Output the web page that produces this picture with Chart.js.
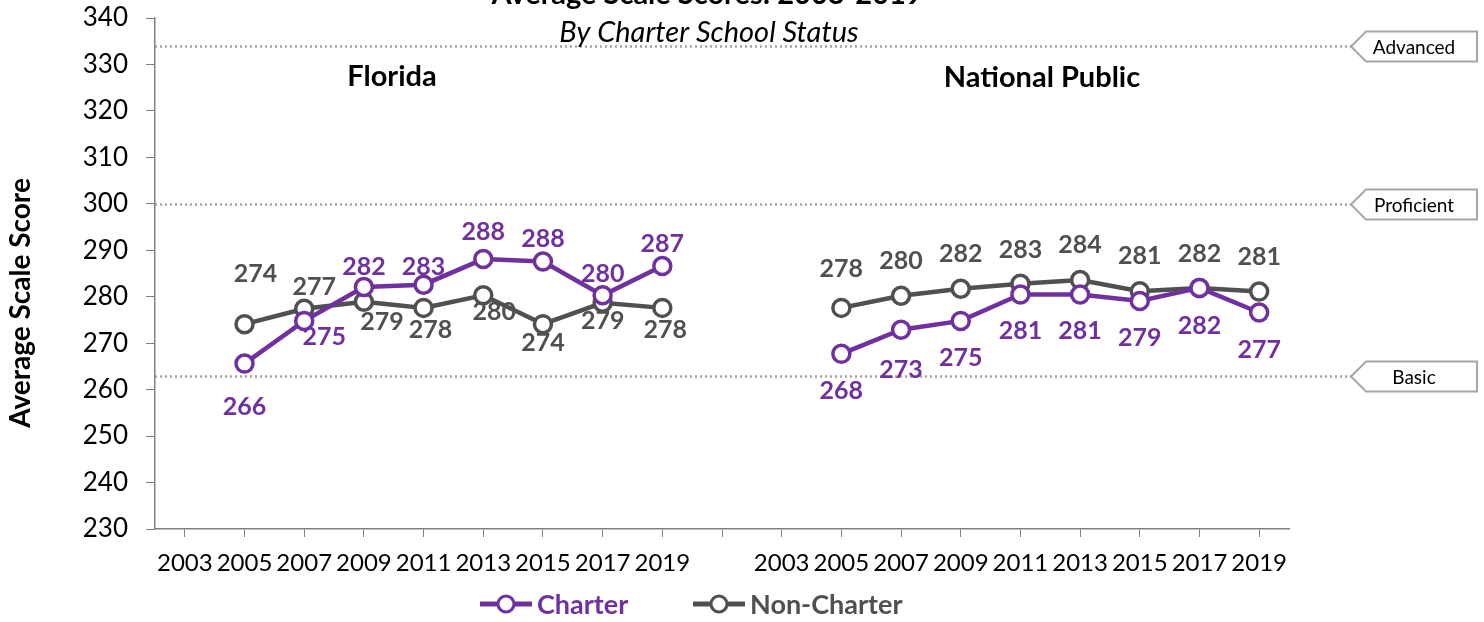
<!DOCTYPE html>
<html>
<head>
<meta charset="utf-8">
<script src="https://cdn.jsdelivr.net/npm/chart.js@4.4.1/dist/chart.umd.min.js"></script>
<style>
  html, body { margin: 0; padding: 0; background: #fff; }
</style>
</head>
<body>
<canvas id="scoreChart" width="1484" height="622"></canvas>
<script>
// categories: two panels (Florida, National Public) separated by one empty slot
const years = ['2003', '2005', '2007', '2009', '2011', '2013', '2015', '2017', '2019'];
const categories = [...years, '', ...years];

const flCharter    = [null, 265.6, 274.8, 282.1, 282.6, 288.1, 287.6, 280.3, 286.6];
const flNonCharter = [null, 274.1, 277.4, 278.9, 277.6, 280.3, 274.1, 278.7, 277.6];
const npCharter    = [null, 267.7, 272.9, 274.8, 280.5, 280.5, 279.1, 281.9, 276.6];
const npNonCharter = [null, 277.6, 280.2, 281.7, 282.8, 283.6, 281.2, 281.9, 281.1];

const levelNames  = ['Advanced', 'Proficient', 'Basic'];
const levelScores = [334, 300, 263];

const yTicks = [230, 240, 250, 260, 270, 280, 290, 300, 310, 320, 330, 340];

const PURPLE = '#7030A0';
const GRAY = '#505050';
const FONT = 'Lato, "Open Sans", sans-serif';

// label offsets per point (dx, dy) relative to the marker
const charterOffsets = [
  null, [0, 43], [20, 16], [0, -20], [0, -18], [0, -27], [0, -22], [0, -21], [0, -22],
  null,
  null, [0, 37], [0, 40], [0, 37], [0, 37], [0, 37], [0, 37], [0, 38], [0, 37]
];
const nonCharterOffsets = [
  null, [11, -50], [10, -22], [18, 20], [7, 22], [11, 17], [0, 19], [0, 18], [3, 22],
  null,
  null, [0, -39], [0, -35], [0, -35], [0, -34], [0, -35], [0, -35], [0, -34], [0, -35]
];

const extras = {
  id: 'extras',
  beforeDatasetsDraw(chart) {
    const { ctx, chartArea, scales } = chart;
    const y = scales.y;
    ctx.save();
    levelScores.forEach((score, i) => {
      const py = Math.round(y.getPixelForValue(score)) + 0.5;
      ctx.strokeStyle = '#A8A196';
      ctx.lineWidth = 2.5;
      ctx.setLineDash([2, 3]);
      ctx.beginPath();
      ctx.moveTo(chartArea.left, py);
      ctx.lineTo(1351, py);
      ctx.stroke();
      ctx.setLineDash([]);
      // callout box with left-pointing tip
      ctx.strokeStyle = '#A6A6A6';
      ctx.lineWidth = 2;
      ctx.fillStyle = '#fff';
      ctx.beginPath();
      ctx.moveTo(1351, py);
      ctx.lineTo(1366, py - 15);
      ctx.lineTo(1477, py - 15);
      ctx.lineTo(1477, py + 15);
      ctx.lineTo(1366, py + 15);
      ctx.closePath();
      ctx.fill();
      ctx.stroke();
      ctx.fillStyle = '#000';
      ctx.font = '19px ' + FONT;
      ctx.textAlign = 'center';
      ctx.textBaseline = 'middle';
      ctx.fillText(levelNames[i], 1414, py + 1);
    });
    ctx.restore();
  },
  afterDatasetsDraw(chart) {
    const { ctx } = chart;
    ctx.save();
    ctx.font = 'bold 25px ' + FONT;
    ctx.textAlign = 'center';
    ctx.textBaseline = 'middle';
    const offs = [charterOffsets, nonCharterOffsets];
    chart.data.datasets.forEach((ds, di) => {
      const meta = chart.getDatasetMeta(di);
      ctx.fillStyle = ds.borderColor;
      meta.data.forEach((pt, i) => {
        const v = ds.data[i];
        if (v == null || !offs[di][i]) return;
        const [dx, dy] = offs[di][i];
        ctx.fillText(Math.round(v), pt.x + dx, pt.y + dy);
      });
    });

    // titles
    ctx.fillStyle = '#000';
    ctx.textBaseline = 'alphabetic';
    ctx.font = 'bold 29px ' + FONT;
    ctx.fillText('Average Scale Scores: 2003-2019', 707, 4);
    ctx.font = 'italic 29px ' + FONT;
    ctx.fillText('By Charter School Status', 709, 42);
    ctx.font = 'bold 29px ' + FONT;
    ctx.fillText('Florida', 392, 86);
    ctx.fillText('National Public', 1042, 87);

    // y axis title
    ctx.save();
    ctx.translate(21, 303);
    ctx.rotate(-Math.PI / 2);
    ctx.textBaseline = 'middle';
    ctx.font = 'bold 28px ' + FONT;
    ctx.fillText('Average Scale Score', 0, 0);
    ctx.restore();

    // legend
    const items = [
      { label: 'Charter', color: PURPLE, x: 480 },
      { label: 'Non-Charter', color: GRAY, x: 693 }
    ];
    ctx.textAlign = 'left';
    ctx.textBaseline = 'middle';
    ctx.font = 'bold 27px ' + FONT;
    items.forEach(it => {
      const ly = 604;
      ctx.strokeStyle = it.color;
      ctx.lineWidth = 5;
      ctx.beginPath();
      ctx.moveTo(it.x, ly);
      ctx.lineTo(it.x + 52, ly);
      ctx.stroke();
      ctx.fillStyle = '#fff';
      ctx.lineWidth = 3;
      ctx.beginPath();
      ctx.arc(it.x + 26, ly, 8, 0, Math.PI * 2);
      ctx.fill();
      ctx.stroke();
      ctx.fillStyle = it.color;
      ctx.fillText(it.label, it.x + 57, ly + 1);
    });
    ctx.restore();
  }
};

new Chart(document.getElementById('scoreChart'), {
  type: 'line',
  data: {
    labels: categories,
    datasets: [
      {
        label: 'Charter',
        data: [...flCharter, null, ...npCharter],
        borderColor: PURPLE,
        backgroundColor: '#fff',
        borderWidth: 4.5,
        pointRadius: 8.5,
        pointBorderWidth: 3.5,
        pointBackgroundColor: '#fff',
        pointBorderColor: PURPLE,
        spanGaps: false,
        tension: 0
      },
      {
        label: 'Non-Charter',
        data: [...flNonCharter, null, ...npNonCharter],
        borderColor: GRAY,
        backgroundColor: '#fff',
        borderWidth: 4.5,
        pointRadius: 8.5,
        pointBorderWidth: 3.5,
        pointBackgroundColor: '#fff',
        pointBorderColor: GRAY,
        spanGaps: false,
        tension: 0
      }
    ]
  },
  options: {
    responsive: false,
    animation: false,
    devicePixelRatio: 1,
    layout: { padding: { top: 18, right: 195, left: 0, bottom: 0 } },
    plugins: {
      legend: { display: false },
      tooltip: { enabled: false }
    },
    scales: {
      x: {
        offset: true,
        grid: { offset: false, drawOnChartArea: false, drawTicks: true, tickLength: 8, color: '#808080' },
        border: { color: '#808080', width: 1.5 },
        ticks: { color: '#000', font: { family: FONT, size: 24 }, padding: 12, maxRotation: 0, autoSkip: false },
        afterFit(scale) {
          scale.height = 93;
          scale.paddingLeft = 0;
          scale.paddingRight = 0;
        }
      },
      y: {
        min: 230,
        max: 340,
        afterBuildTicks(scale) { scale.ticks = yTicks.map(v => ({ value: v })); },
        grid: { drawOnChartArea: false, drawTicks: true, tickLength: 9, color: '#808080' },
        border: { color: '#808080', width: 1.5 },
        ticks: { color: '#000', font: { family: FONT, size: 26 }, padding: 18 },
        afterFit(scale) {
          scale.width = 155;
          scale.paddingTop = 0;
          scale.paddingBottom = 0;
        }
      }
    }
  },
  plugins: [extras]
});
</script>
</body>
</html>
